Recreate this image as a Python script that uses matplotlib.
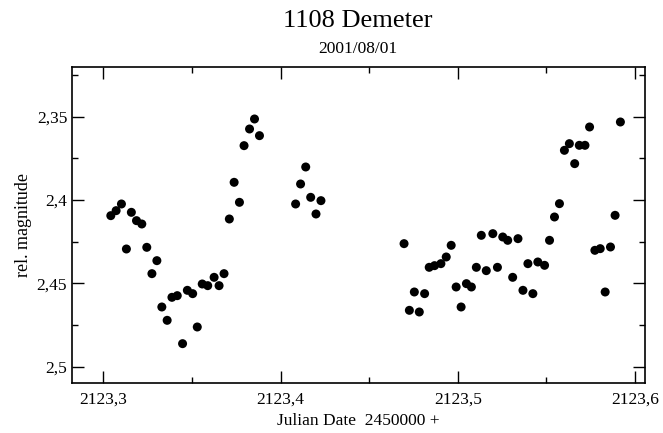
import matplotlib
matplotlib.use("Agg")
import matplotlib.pyplot as plt
from matplotlib.ticker import MultipleLocator, FuncFormatter

plt.rcParams['font.family'] = ['Liberation Serif', 'DejaVu Serif']

# Julian Date - 2450000
jd = [
    2123.3042, 2123.3072, 2123.3102, 2123.3130, 2123.3158, 2123.3187,
    2123.3217, 2123.3245, 2123.3274, 2123.3302, 2123.3330, 2123.3360,
    2123.3387, 2123.3417, 2123.3447, 2123.3474, 2123.3504, 2123.3530,
    2123.3558, 2123.3589, 2123.3625, 2123.3653, 2123.3681, 2123.3711,
    2123.3738, 2123.3768, 2123.3794, 2123.3825, 2123.3853, 2123.3881,
    2123.4085, 2123.4113, 2123.4142, 2123.4170, 2123.4200, 2123.4228,
    2123.4697, 2123.4727, 2123.4755, 2123.4783, 2123.4813, 2123.4839,
    2123.4869, 2123.4905, 2123.4935, 2123.4963, 2123.4991, 2123.5019,
    2123.5049, 2123.5077, 2123.5105, 2123.5133, 2123.5161, 2123.5198,
    2123.5224, 2123.5254, 2123.5282, 2123.5310, 2123.5340, 2123.5368,
    2123.5396, 2123.5424, 2123.5452, 2123.5490, 2123.5518, 2123.5546,
    2123.5574, 2123.5602, 2123.5630, 2123.5660, 2123.5686, 2123.5718,
    2123.5744, 2123.5774, 2123.5804, 2123.5832, 2123.5862, 2123.5888,
    2123.5918,
]
mag = [
    2.4094, 2.4064, 2.4024, 2.4294, 2.4074, 2.4124,
    2.4144, 2.4284, 2.4442, 2.4364, 2.4642, 2.4722,
    2.4584, 2.4574, 2.4862, 2.4542, 2.4562, 2.4762,
    2.4504, 2.4514, 2.4464, 2.4514, 2.4442, 2.4114,
    2.3894, 2.4014, 2.3674, 2.3574, 2.3514, 2.3614,
    2.4024, 2.3904, 2.3802, 2.3984, 2.4084, 2.4004,
    2.4262, 2.4662, 2.4552, 2.4672, 2.4562, 2.4404,
    2.4394, 2.4382, 2.4342, 2.4272, 2.4522, 2.4642,
    2.4502, 2.4522, 2.4404, 2.4212, 2.4424, 2.4202,
    2.4404, 2.4222, 2.4242, 2.4464, 2.4232, 2.4542,
    2.4382, 2.4562, 2.4372, 2.4392, 2.4242, 2.4102,
    2.4022, 2.3702, 2.3662, 2.3782, 2.3672, 2.3672,
    2.3562, 2.4302, 2.4292, 2.4552, 2.4282, 2.4092,
    2.3532,
]

fig = plt.figure(figsize=(6.63, 4.33), dpi=100)
ax = fig.add_axes([0.1086, 0.1155, 0.8643, 0.7298])

ax.scatter(jd, mag, s=42, color='black', edgecolors='none', zorder=3)

ax.set_xlim(2123.2823, 2123.6057)
ax.set_ylim(2.5098, 2.3202)

ax.xaxis.set_major_locator(MultipleLocator(0.1))
ax.xaxis.set_minor_locator(MultipleLocator(0.05))
ax.yaxis.set_major_locator(MultipleLocator(0.05))
ax.yaxis.set_minor_locator(MultipleLocator(0.025))

def comma_fmt(nd):
    return FuncFormatter(lambda v, p: f"{v:.{nd}f}".rstrip('0').replace('.', ','))

ax.xaxis.set_major_formatter(comma_fmt(1))
ax.yaxis.set_major_formatter(comma_fmt(2))

ax.tick_params(which='both', direction='in', top=True, right=True, labelsize=12.5)
ax.tick_params(axis='x', which='major', pad=6)
ax.tick_params(which='major', length=8.5, width=1)
ax.tick_params(which='minor', length=4.5, width=1)
for sp in ax.spines.values():
    sp.set_linewidth(1.2)

ax.set_xlabel("Julian Date  2450000 +", fontsize=12.5, labelpad=4)
ax.set_ylabel("rel. magnitude", fontsize=13, labelpad=3)

fig.text(0.54, 0.952, "1108 Demeter", ha='center', va='center', fontsize=19)
fig.text(0.54, 0.887, "2001/08/01", ha='center', va='center', fontsize=12.5)

fig.savefig("out.png", dpi=100)
